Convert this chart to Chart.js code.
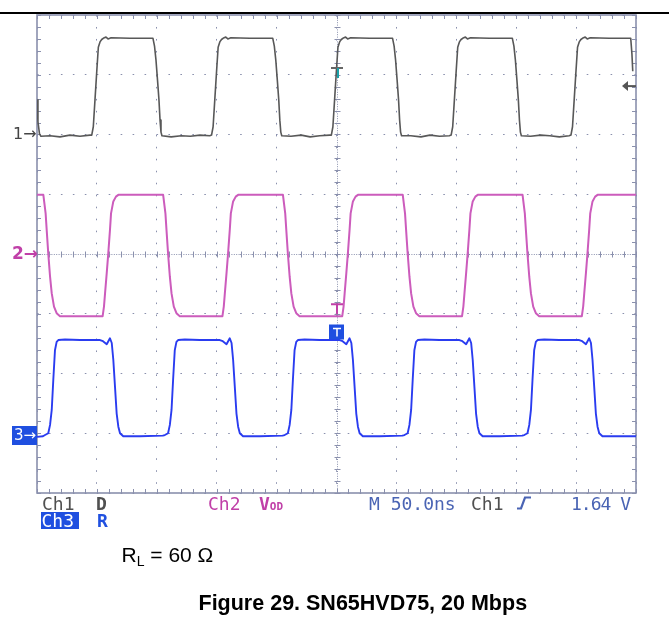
<!DOCTYPE html>
<html><head><meta charset="utf-8">
<script src="https://cdn.jsdelivr.net/npm/chart.js@4.4.0/dist/chart.umd.min.js"></script>
<style>
html,body{margin:0;padding:0;background:#fff;width:669px;height:629px;overflow:hidden;position:relative}
#wrap{position:absolute;left:0;top:0;width:669px;height:629px}
.t{position:absolute;white-space:nowrap;line-height:1;font-family:"DejaVu Sans Mono",monospace;font-size:18px}
.a{position:absolute;white-space:nowrap;line-height:1;font-family:"Liberation Sans",Arial,sans-serif;color:#000}
</style></head><body>
<div id="wrap"><canvas id="c" width="669" height="629"></canvas></div>
<div style="position:absolute;left:0;top:12px;width:669px;height:2px;background:#000"></div>

<div class="t" style="left:13px;top:126px;font-family:'DejaVu Sans',sans-serif;font-size:16px;color:#444">1→</div>
<div class="t" style="left:12px;top:245px;font-family:'DejaVu Sans',sans-serif;font-size:17px;color:#c040a8;font-weight:bold">2→</div>
<div style="position:absolute;left:12px;top:426px;width:25px;height:19px;background:#1f4fe0"></div>
<div class="t" style="left:14px;top:428px;font-family:'DejaVu Sans',sans-serif;font-size:15px;color:#fff">3→</div>

<div class="t" style="left:42px;top:494.5px;color:#505050">Ch1</div>
<div class="t" style="left:96px;top:494.5px;color:#505050;font-weight:bold">D</div>
<div style="position:absolute;left:41px;top:512px;width:38px;height:17px;background:#1f4fe0"></div>
<div class="t" style="left:41.5px;top:511.5px;color:#fff">Ch3</div>
<div class="t" style="left:97px;top:511.5px;color:#2050e0;font-weight:bold">R</div>
<div class="t" style="left:208px;top:494.5px;color:#c040a8">Ch2</div>
<div class="t" style="left:259px;top:494.5px;color:#c040a8;font-weight:bold">V<span style="font-size:11px">OD</span></div>
<div class="t" style="left:369px;top:494.5px;color:#4a64b4">M 50.0ns</div>
<div class="t" style="left:471px;top:494.5px;color:#505050">Ch1</div>
<svg style="position:absolute;left:516px;top:496px" width="16" height="14"><path d="M1 12.5 H5 L9 1.5 H15" stroke="#4a64b4" stroke-width="2.2" fill="none"/></svg>
<div class="t" style="left:571px;top:494.5px;color:#4a64b4;letter-spacing:-1px">1.64 V</div>

<div class="a" style="left:121.5px;top:544.2px;font-size:21px">R<sub style="font-size:14px;vertical-align:-4px">L</sub> = 60 Ω</div>
<div class="a" style="left:198.5px;top:593.3px;font-size:21.5px;font-weight:bold">Figure 29. SN65HVD75, 20 Mbps</div>

<script>
// Time axis in ns (M 50.0ns per division, 10 divisions); vertical axis in divisions (8 divisions)
const xTicks = [0, 50, 100, 150, 200, 250, 300, 350, 400, 450, 500];
const yTicks = [-4, -3, -2, -1, 0, 1, 2, 3, 4];
const triggerTime = 250;
const ch1TriggerLevel = 2.81;

// Ch1 : D (driver input)
const ch1Time = [0,0.8,2.1,3.3,10.9,19.2,27.5,35.9,44.2,
45.7,47.0,48.4,49.8,51.2,52.6,54.0,55.3,57.6,59.3,61.8,77.6,96.8,
98.1,99.3,100.6,101.8,102.7,103.5,104.3,112.0,120.5,128.0,136.0,144.2,
145.7,147.0,148.4,149.8,151.2,152.6,154.0,155.3,157.6,159.3,161.8,177.6,196.8,
198.1,199.3,200.6,201.8,202.7,203.5,204.3,212.0,220.5,228.0,236.0,244.2,
245.7,247.0,248.4,249.8,251.2,252.6,254.0,255.3,257.6,259.3,261.8,277.6,296.8,
298.1,299.3,300.6,301.8,302.7,303.5,304.3,312.0,320.5,328.0,336.0,344.2,
345.7,347.0,348.4,349.8,351.2,352.6,354.0,355.3,357.6,359.3,361.8,377.6,396.8,
398.1,399.3,400.6,401.8,402.7,403.5,404.3,412.0,420.5,428.0,436.0,444.2,
445.7,447.0,448.4,449.8,451.2,452.6,454.0,455.3,457.6,459.3,461.8,477.6,495.6,
496.6,497.3];
const ch1Level = [2.58,2.21,2.01,1.97,1.98,1.96,1.99,1.97,1.99,
1.99,2.13,2.58,3.03,3.46,3.55,3.59,3.61,3.63,3.60,3.62,3.61,3.61,
3.48,3.25,2.91,2.58,2.24,2.04,1.98,1.96,1.98,1.97,1.99,1.98,
1.99,2.13,2.58,3.03,3.46,3.55,3.59,3.61,3.63,3.60,3.62,3.61,3.61,
3.48,3.25,2.91,2.58,2.24,2.04,1.98,1.97,1.99,1.96,1.98,1.99,
1.99,2.13,2.58,3.03,3.46,3.55,3.59,3.61,3.63,3.60,3.62,3.61,3.61,
3.48,3.25,2.91,2.58,2.24,2.04,1.98,1.98,1.96,1.99,1.97,1.98,
1.99,2.13,2.58,3.03,3.46,3.55,3.59,3.61,3.63,3.60,3.62,3.61,3.61,
3.48,3.25,2.91,2.58,2.24,2.04,1.98,1.97,1.99,1.98,1.96,1.98,
1.99,2.13,2.58,3.03,3.46,3.55,3.59,3.61,3.63,3.60,3.62,3.61,3.61,
3.35,3.06];

// Ch2 : VOD (differential bus voltage)
const ch2Time = [0,5.3,7.2,8.1,9.4,10.9,12.3,14.2,16.4,19.2,35.9,
54.8,55.9,56.8,58.2,59.5,60.9,61.8,63.7,65.9,67.9,85.0,
105.3,107.2,108.1,109.4,110.9,112.3,114.2,116.4,119.2,135.9,
154.8,155.9,156.8,158.2,159.5,160.9,161.8,163.7,165.9,167.9,185.0,
205.3,207.2,208.1,209.4,210.9,212.3,214.2,216.4,219.2,235.9,
254.8,255.9,256.8,258.2,259.5,260.9,261.8,263.7,265.9,267.9,285.0,
305.3,307.2,308.1,309.4,310.9,312.3,314.2,316.4,319.2,335.9,
354.8,355.9,356.8,358.2,359.5,360.9,361.8,363.7,365.9,367.9,385.0,
405.3,407.2,408.1,409.4,410.9,412.3,414.2,416.4,419.2,435.9,
454.8,455.9,456.8,458.2,459.5,460.9,461.8,463.7,465.9,467.9,485.0,500];
const ch2Level = [0.99,0.99,0.68,0.40,0.01,-0.38,-0.66,-0.88,-0.99,-1.04,-1.04,
-1.04,-0.88,-0.66,-0.32,0.01,0.40,0.68,0.88,0.96,0.99,0.99,
0.99,0.68,0.40,0.01,-0.38,-0.66,-0.88,-0.99,-1.04,-1.04,
-1.04,-0.88,-0.66,-0.32,0.01,0.40,0.68,0.88,0.96,0.99,0.99,
0.99,0.68,0.40,0.01,-0.38,-0.66,-0.88,-0.99,-1.04,-1.04,
-1.04,-0.88,-0.66,-0.32,0.01,0.40,0.68,0.88,0.96,0.99,0.99,
0.99,0.68,0.40,0.01,-0.38,-0.66,-0.88,-0.99,-1.04,-1.04,
-1.04,-0.88,-0.66,-0.32,0.01,0.40,0.68,0.88,0.96,0.99,0.99,
0.99,0.68,0.40,0.01,-0.38,-0.66,-0.88,-0.99,-1.04,-1.04,
-1.04,-0.88,-0.66,-0.32,0.01,0.40,0.68,0.88,0.96,0.99,0.99,0.99];

// Ch3 : R (receiver output)
const ch3Time = [0,5.0,6.7,9.4,10.9,12.3,13.6,15.0,16.4,17.8,23.4,35.9,52.6,55.1,58.2,60.9,62.4,
63.7,65.1,66.5,67.9,69.3,72.0,86.0,105.0,
106.7,109.4,110.9,112.3,113.6,115.0,116.4,117.8,123.4,135.9,152.6,155.1,158.2,160.9,162.4,
163.7,165.1,166.5,167.9,169.3,172.0,186.0,205.0,
206.7,209.4,210.9,212.3,213.6,215.0,216.4,217.8,223.4,235.9,252.6,255.1,258.2,260.9,262.4,
263.7,265.1,266.5,267.9,269.3,272.0,286.0,305.0,
306.7,309.4,310.9,312.3,313.6,315.0,316.4,317.8,323.4,335.9,352.6,355.1,358.2,360.9,362.4,
363.7,365.1,366.5,367.9,369.3,372.0,386.0,405.0,
406.7,409.4,410.9,412.3,413.6,415.0,416.4,417.8,423.4,435.9,452.6,455.1,458.2,460.9,462.4,
463.7,465.1,466.5,467.9,469.3,472.0,486.0,500];
const ch3Level = [-3.06,-3.05,-3.03,-3.00,-2.86,-2.61,-2.11,-1.61,-1.47,-1.44,-1.43,-1.44,-1.44,-1.46,-1.51,-1.41,-1.49,
-1.77,-2.22,-2.67,-2.89,-3.00,-3.05,-3.05,-3.04,
-3.03,-3.00,-2.86,-2.61,-2.11,-1.61,-1.47,-1.44,-1.43,-1.44,-1.44,-1.46,-1.51,-1.41,-1.49,
-1.77,-2.22,-2.67,-2.89,-3.00,-3.05,-3.05,-3.04,
-3.03,-3.00,-2.86,-2.61,-2.11,-1.61,-1.47,-1.44,-1.43,-1.44,-1.44,-1.46,-1.51,-1.41,-1.49,
-1.77,-2.22,-2.67,-2.89,-3.00,-3.05,-3.05,-3.04,
-3.03,-3.00,-2.86,-2.61,-2.11,-1.61,-1.47,-1.44,-1.43,-1.44,-1.44,-1.46,-1.51,-1.41,-1.49,
-1.77,-2.22,-2.67,-2.89,-3.00,-3.05,-3.05,-3.04,
-3.03,-3.00,-2.86,-2.61,-2.11,-1.61,-1.47,-1.44,-1.43,-1.44,-1.44,-1.46,-1.51,-1.41,-1.49,
-1.77,-2.22,-2.67,-2.89,-3.00,-3.05,-3.05,-3.05];

const toPts = (ts, vs) => ts.map((t, i) => ({x: t, y: vs[i]}));
const GRID = '#8a90ad';

const scopePlugin = {
  id: 'scope',
  beforeDatasetsDraw(chart) {
    const {ctx, chartArea: a, scales: {x, y}} = chart;
    ctx.save();
    ctx.strokeStyle = GRID;
    ctx.lineWidth = 1;
    const cx = Math.round(x.getPixelForValue(triggerTime)) + 0.5;
    const cy = Math.round(y.getPixelForValue(0)) + 0.5;
    const seg = (x1, y1, x2, y2) => { ctx.beginPath(); ctx.moveTo(x1, y1); ctx.lineTo(x2, y2); ctx.stroke(); };
    ctx.setLineDash([1, 1.4]);
    seg(a.left, cy, a.right, cy);
    seg(cx, a.top, cx, a.bottom);
    ctx.setLineDash([]);
    for (let t = 0; t <= 500.001; t += 10) {
      const px = Math.round(x.getPixelForValue(t)) + 0.5;
      seg(px, cy - 3, px, cy + 3);
      seg(px, a.top, px, a.top + 4);
      seg(px, a.bottom - 4, px, a.bottom);
    }
    for (let v = -4; v <= 4.001; v += 0.2) {
      const py = Math.round(y.getPixelForValue(v)) + 0.5;
      seg(cx - 3, py, cx + 3, py);
      seg(a.left, py, a.left + 4, py);
      seg(a.right - 4, py, a.right, py);
    }
    ctx.lineWidth = 1.6;
    ctx.strokeRect(a.left, a.top, a.right - a.left, a.bottom - a.top);
    ctx.restore();
  },
  afterDatasetsDraw(chart) {
    const {ctx, chartArea: a, scales: {x, y}} = chart;
    const cx = Math.round(x.getPixelForValue(triggerTime));
    ctx.save();
    // Ch1 trigger marker
    ctx.lineWidth = 2;
    ctx.strokeStyle = '#666';
    const ty = y.getPixelForValue(ch1TriggerLevel);
    ctx.beginPath(); ctx.moveTo(cx - 6, 68); ctx.lineTo(cx + 6, 68); ctx.stroke();
    ctx.strokeStyle = '#1aa0a8';
    ctx.beginPath(); ctx.moveTo(cx + 1, 68); ctx.lineTo(cx + 1, 78); ctx.stroke();
    // Ch1 trigger level arrow at right
    ctx.fillStyle = '#555';
    ctx.beginPath(); ctx.moveTo(a.right - 14, ty); ctx.lineTo(a.right - 8, ty - 5); ctx.lineTo(a.right - 8, ty + 5); ctx.closePath(); ctx.fill();
    ctx.lineWidth = 2; ctx.strokeStyle = '#555';
    ctx.beginPath(); ctx.moveTo(a.right - 9, ty); ctx.lineTo(a.right, ty); ctx.stroke();
    // Ch2 T marker
    const my = y.getPixelForValue(-0.84);
    ctx.strokeStyle = '#c040a8'; ctx.lineWidth = 2;
    ctx.beginPath(); ctx.moveTo(cx - 6, my); ctx.lineTo(cx + 6, my); ctx.moveTo(cx, my); ctx.lineTo(cx, my + 10); ctx.stroke();
    // Ch3 T marker box
    const by = y.getPixelForValue(-1.18);
    ctx.fillStyle = '#1f4fe0';
    ctx.fillRect(cx - 8, by, 15, 15);
    ctx.strokeStyle = '#fff'; ctx.lineWidth = 1.5;
    ctx.beginPath(); ctx.moveTo(cx - 4, by + 4); ctx.lineTo(cx + 4, by + 4); ctx.moveTo(cx, by + 4); ctx.lineTo(cx, by + 12); ctx.stroke();
    ctx.restore();
  }
};

new Chart(document.getElementById('c'), {
  type: 'line',
  data: {
    datasets: [
      {label: 'Ch1 D', data: toPts(ch1Time, ch1Level), borderColor: '#585858', borderWidth: 1.6},
      {label: 'Ch2 VOD', data: toPts(ch2Time, ch2Level), borderColor: '#cc5cbc', borderWidth: 2},
      {label: 'Ch3 R', data: toPts(ch3Time, ch3Level), borderColor: '#2a3cf0', borderWidth: 1.9}
    ]
  },
  options: {
    responsive: false,
    animation: false,
    events: [],
    layout: {padding: {left: 37, top: 15, right: 33, bottom: 136}},
    elements: {point: {radius: 0}, line: {tension: 0, borderJoinStyle: 'round'}},
    plugins: {legend: {display: false}, tooltip: {enabled: false}, title: {display: false}},
    scales: {
      x: {
        type: 'linear', min: 0, max: 500,
        afterBuildTicks: s => { s.ticks = xTicks.map(v => ({value: v})); },
        ticks: {display: false},
        grid: {color: GRID, lineWidth: 1, drawTicks: false},
        border: {display: false, dash: [1.6, 10.38]}
      },
      y: {
        type: 'linear', min: -4, max: 4,
        afterBuildTicks: s => { s.ticks = yTicks.map(v => ({value: v})); },
        ticks: {display: false},
        grid: {color: GRID, lineWidth: 1, drawTicks: false},
        border: {display: false, dash: [1.6, 10.35]}
      }
    }
  },
  plugins: [scopePlugin]
});
</script>
</body></html>
